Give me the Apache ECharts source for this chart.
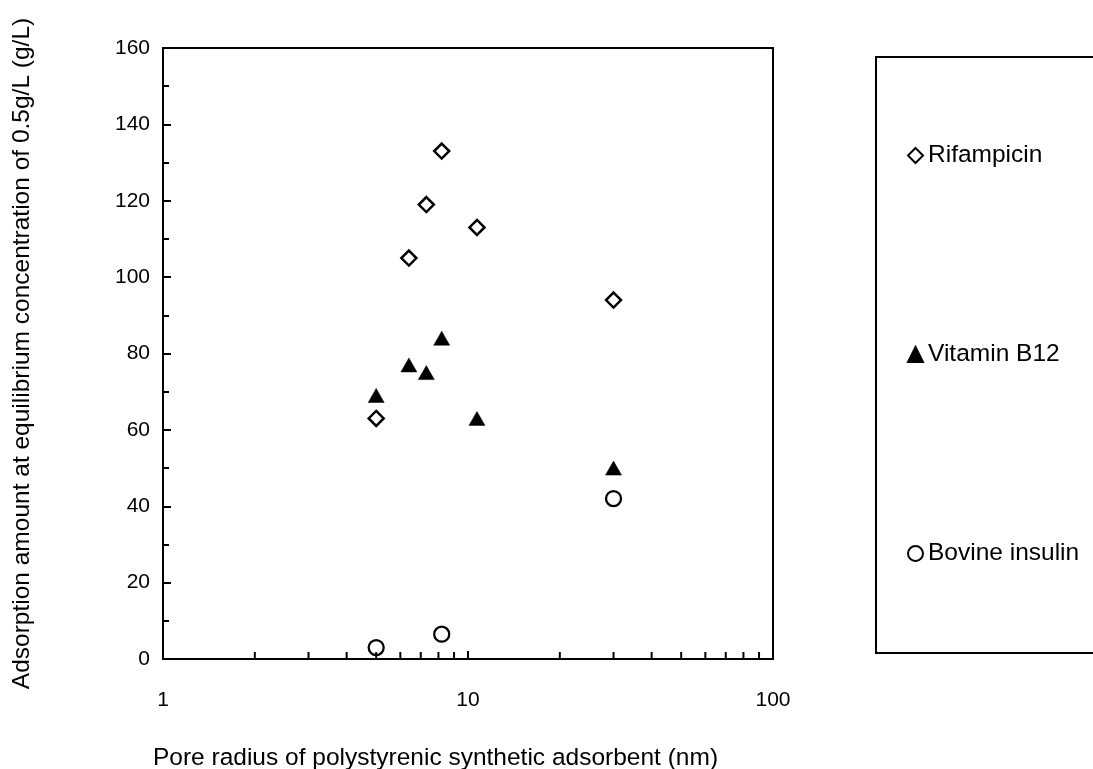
<!DOCTYPE html>
<html>
<head>
<meta charset="utf-8">
<script src="https://cdn.jsdelivr.net/npm/echarts@6/dist/echarts.min.js"></script>
<style>
  html, body { margin: 0; padding: 0; background: #fff; }
  #chart { width: 1093px; height: 769px; }
</style>
</head>
<body>
<div id="chart"></div>
<script>
// pore radius (nm) vs adsorption amount (g/L)
const rifampicin = [[5, 63], [6.4, 105], [7.3, 119], [8.2, 133], [10.7, 113], [30, 94]];
const vitaminB12 = [[5, 69], [6.4, 77], [7.3, 75], [8.2, 84], [10.7, 63], [30, 50]];
const bovineInsulin = [[5, 3], [8.2, 6.5], [30, 42]];
const seriesNames = ['Rifampicin', 'Vitamin B12', 'Bovine insulin'];
const minorTickValues = [2, 3, 4, 5, 6, 7, 8, 9, 20, 30, 40, 50, 60, 70, 80, 90];

const FONT = '"Liberation Sans", Arial, Helvetica, sans-serif';
const chart = echarts.init(document.getElementById('chart'), null, { renderer: 'canvas' });

const option = {
    backgroundColor: '#fff',
    animation: false,
    textStyle: { fontFamily: FONT, color: '#000' },
    grid: {
        left: 163, right: 320, top: 48, bottom: 110,
        outerBoundsMode: 'none',
        containLabel: false,
        show: true, borderColor: '#000', borderWidth: 2, backgroundColor: 'transparent'
    },
    legend: {
        data: seriesNames,
        orient: 'vertical',
        left: 876,
        top: 57,
        padding: [86, 60, 87, 31],
        itemGap: 174,
        itemWidth: 15,
        itemHeight: 15,
        borderColor: '#000',
        borderWidth: 2,
        textStyle: { fontFamily: FONT, fontSize: 24.5, color: '#000' }
    },
    xAxis: {
        type: 'log',
        logBase: 10,
        min: 1,
        max: 100,
        name: 'Pore radius of polystyrenic synthetic adsorbent (nm)',
        nameLocation: 'middle',
        nameGap: 87,
        nameTextStyle: { fontFamily: FONT, fontSize: 24.5, color: '#000', padding: [0, 65, 0, 0] },
        axisLine: { lineStyle: { color: '#000', width: 2 } },
        axisTick: { inside: true, length: 8, lineStyle: { color: '#000', width: 2 } },
        axisLabel: { margin: 31, fontFamily: FONT, fontSize: 21, color: '#000' },
        splitLine: { show: false }
    },
    yAxis: {
        type: 'value',
        min: 0,
        max: 160,
        interval: 20,
        name: 'Adsorption amount at equilibrium concentration of 0.5g/L (g/L)',
        nameLocation: 'middle',
        nameGap: 128,
        nameTextStyle: { fontFamily: FONT, fontSize: 24.5, color: '#000' },
        axisLine: { show: true, lineStyle: { color: '#000', width: 2 } },
        axisTick: { inside: true, length: 8, lineStyle: { color: '#000', width: 2 } },
        minorTick: { show: true, splitNumber: 2, length: 6, lineStyle: { color: '#000', width: 2 } },
        axisLabel: { margin: 13, fontFamily: FONT, fontSize: 21, color: '#000' },
        splitLine: { show: false }
    },
    series: [
        {
            name: 'Rifampicin',
            type: 'scatter',
            data: rifampicin,
            symbol: 'diamond',
            symbolSize: 15,
            itemStyle: { color: '#fff', borderColor: '#000', borderWidth: 2.5, opacity: 1 }
        },
        {
            name: 'Vitamin B12',
            type: 'scatter',
            data: vitaminB12,
            symbol: 'triangle',
            symbolSize: [16, 14],
            itemStyle: { color: '#000', borderColor: '#000', borderWidth: 0.5, opacity: 1 }
        },
        {
            name: 'Bovine insulin',
            type: 'scatter',
            data: bovineInsulin,
            symbol: 'circle',
            symbolSize: 15,
            itemStyle: { color: '#fff', borderColor: '#000', borderWidth: 2.3, opacity: 1 }
        },
        {
            // minor ticks of the log axis (2..9, 20..90)
            type: 'custom',
            silent: true,
            data: minorTickValues.map(v => [v, 0]),
            encode: { x: 0, y: 1 },
            renderItem: function (params, api) {
                const p = api.coord([api.value(0), 0]);
                return {
                    type: 'line',
                    shape: { x1: p[0], y1: p[1], x2: p[0], y2: p[1] - 7 },
                    style: { stroke: '#000', lineWidth: 2 }
                };
            },
            z: 5
        }
    ]
};

chart.setOption(option);
window.addEventListener('resize', () => chart.resize());
</script>
</body>
</html>
